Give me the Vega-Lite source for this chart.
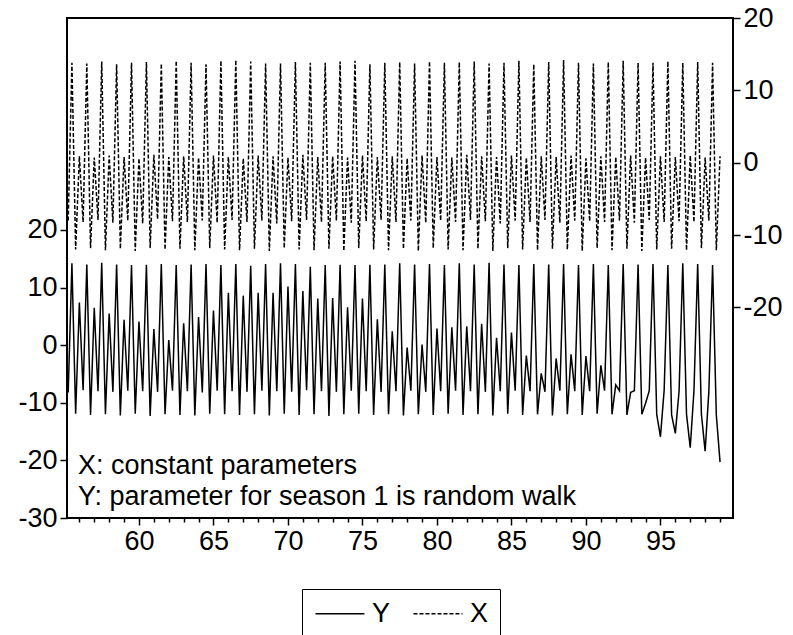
{
  "$schema": "https://vega.github.io/schema/vega-lite/v6.json",
  "autosize": {"type": "none"},
  "width": 666,
  "height": 500,
  "padding": {"left": 67, "top": 18, "right": 60, "bottom": 117},
  "background": "white",
  "config": {
    "view": {"stroke": "black", "strokeWidth": 2},
    "axis": {"domain": false, "grid": false, "tickColor": "black", "tickWidth": 1.5, "labelColor": "black", "labelFont": "Liberation Sans", "labelFontSize": 27, "title": null},
    "legend": {"orient": "none", "legendX": 235, "legendY": 571, "direction": "horizontal", "strokeColor": "black", "fillColor": "white", "padding": 11, "symbolType": "M-1.8,0H6.2", "symbolSize": 150, "symbolStrokeWidth": 1.5, "symbolStrokeColor": "black", "labelFontSize": 27, "labelFont": "Liberation Sans", "labelColor": "black", "labelOffset": 32, "columnPadding": 19, "title": null}
  },
  "data": {"values": [
    {"t":55.25,"Y":-8.2,"X":-8.0},{"t":55.5,"Y":14.2,"X":13.8},{"t":55.75,"Y":-11.9,"X":-12.0},
    {"t":56,"Y":7.4,"X":0.9},{"t":56.25,"Y":-7.8,"X":-8.2},{"t":56.5,"Y":14.0,"X":13.7},{"t":56.75,"Y":-12.1,"X":-11.8},
    {"t":57,"Y":6.5,"X":0.7},{"t":57.25,"Y":-8.0,"X":-7.9},{"t":57.5,"Y":14.3,"X":14.0},{"t":57.75,"Y":-12.0,"X":-12.1},
    {"t":58,"Y":5.5,"X":1.0},{"t":58.25,"Y":-8.1,"X":-8.3},{"t":58.5,"Y":14.0,"X":13.6},{"t":58.75,"Y":-12.2,"X":-11.9},
    {"t":59,"Y":4.4,"X":0.8},{"t":59.25,"Y":-7.9,"X":-8.0},{"t":59.5,"Y":13.9,"X":13.8},{"t":59.75,"Y":-11.9,"X":-12.2},
    {"t":60,"Y":4.1,"X":0.6},{"t":60.25,"Y":-8.0,"X":-8.4},{"t":60.5,"Y":13.95,"X":13.9},{"t":60.75,"Y":-12.3,"X":-11.8},
    {"t":61,"Y":2.8,"X":1.1},{"t":61.25,"Y":-8.1,"X":-7.8},{"t":61.5,"Y":14.1,"X":13.7},{"t":61.75,"Y":-12.0,"X":-12.0},
    {"t":62,"Y":0.9,"X":0.8},{"t":62.25,"Y":-7.9,"X":-8.1},{"t":62.5,"Y":13.9,"X":14.1},{"t":62.75,"Y":-12.1,"X":-11.9},
    {"t":63,"Y":3.8,"X":0.9},{"t":63.25,"Y":-8.0,"X":-8.2},{"t":63.5,"Y":14.0,"X":13.8},{"t":63.75,"Y":-12.2,"X":-12.1},
    {"t":64,"Y":4.9,"X":0.7},{"t":64.25,"Y":-8.2,"X":-8.0},{"t":64.5,"Y":14.1,"X":13.6},{"t":64.75,"Y":-11.9,"X":-11.8},
    {"t":65,"Y":6.0,"X":1.0},{"t":65.25,"Y":-7.9,"X":-8.3},{"t":65.5,"Y":13.9,"X":14.1},{"t":65.75,"Y":-12.0,"X":-12.0},
    {"t":66,"Y":9.1,"X":0.8},{"t":66.25,"Y":-8.0,"X":-7.9},{"t":66.5,"Y":14.1,"X":14.2},{"t":66.75,"Y":-12.1,"X":-12.1},
    {"t":67,"Y":8.6,"X":0.6},{"t":67.25,"Y":-8.1,"X":-8.2},{"t":67.5,"Y":13.8,"X":14.0},{"t":67.75,"Y":-12.0,"X":-11.9},
    {"t":68,"Y":9.1,"X":1.0},{"t":68.25,"Y":-7.9,"X":-8.0},{"t":68.5,"Y":14.1,"X":13.7},{"t":68.75,"Y":-12.2,"X":-12.2},
    {"t":69,"Y":9.1,"X":0.9},{"t":69.25,"Y":-8.0,"X":-8.4},{"t":69.5,"Y":14.2,"X":13.7},{"t":69.75,"Y":-11.9,"X":-11.8},
    {"t":70,"Y":10.2,"X":0.7},{"t":70.25,"Y":-8.1,"X":-8.1},{"t":70.5,"Y":14.1,"X":13.9},{"t":70.75,"Y":-12.1,"X":-12.0},
    {"t":71,"Y":9.4,"X":1.1},{"t":71.25,"Y":-7.8,"X":-7.9},{"t":71.5,"Y":13.6,"X":13.8},{"t":71.75,"Y":-12.0,"X":-12.1},
    {"t":72,"Y":8.1,"X":0.8},{"t":72.25,"Y":-8.0,"X":-8.2},{"t":72.5,"Y":13.9,"X":13.8},{"t":72.75,"Y":-12.3,"X":-11.9},
    {"t":73,"Y":8.2,"X":0.9},{"t":73.25,"Y":-8.1,"X":-8.0},{"t":73.5,"Y":13.95,"X":14.0},{"t":73.75,"Y":-12.0,"X":-12.2},
    {"t":74,"Y":6.6,"X":0.7},{"t":74.25,"Y":-7.9,"X":-8.3},{"t":74.5,"Y":13.9,"X":14.1},{"t":74.75,"Y":-11.9,"X":-11.8},
    {"t":75,"Y":8.1,"X":1.0},{"t":75.25,"Y":-8.0,"X":-8.1},{"t":75.5,"Y":13.95,"X":13.6},{"t":75.75,"Y":-12.1,"X":-12.0},
    {"t":76,"Y":4.5,"X":0.8},{"t":76.25,"Y":-8.1,"X":-7.9},{"t":76.5,"Y":14.0,"X":13.8},{"t":76.75,"Y":-12.0,"X":-12.1},
    {"t":77,"Y":2.4,"X":0.9},{"t":77.25,"Y":-8.0,"X":-8.2},{"t":77.5,"Y":14.2,"X":13.9},{"t":77.75,"Y":-12.2,"X":-11.9},
    {"t":78,"Y":-0.4,"X":0.6},{"t":78.25,"Y":-7.9,"X":-8.0},{"t":78.5,"Y":14.0,"X":13.7},{"t":78.75,"Y":-12.0,"X":-12.2},
    {"t":79,"Y":0.1,"X":1.0},{"t":79.25,"Y":-8.1,"X":-8.3},{"t":79.5,"Y":14.1,"X":14.0},{"t":79.75,"Y":-12.1,"X":-11.8},
    {"t":80,"Y":2.9,"X":0.8},{"t":80.25,"Y":-8.0,"X":-8.0},{"t":80.5,"Y":13.9,"X":13.8},{"t":80.75,"Y":-11.9,"X":-12.0},
    {"t":81,"Y":3.1,"X":0.7},{"t":81.25,"Y":-7.9,"X":-8.2},{"t":81.5,"Y":14.2,"X":13.9},{"t":81.75,"Y":-12.1,"X":-12.1},
    {"t":82,"Y":3.3,"X":1.1},{"t":82.25,"Y":-8.0,"X":-7.9},{"t":82.5,"Y":14.0,"X":14.0},{"t":82.75,"Y":-12.0,"X":-11.9},
    {"t":83,"Y":3.7,"X":0.9},{"t":83.25,"Y":-8.1,"X":-8.1},{"t":83.5,"Y":14.3,"X":13.7},{"t":83.75,"Y":-12.2,"X":-12.2},
    {"t":84,"Y":1.3,"X":0.8},{"t":84.25,"Y":-8.0,"X":-8.4},{"t":84.5,"Y":14.0,"X":13.8},{"t":84.75,"Y":-11.9,"X":-11.8},
    {"t":85,"Y":2.2,"X":1.0},{"t":85.25,"Y":-7.9,"X":-8.0},{"t":85.5,"Y":13.9,"X":14.1},{"t":85.75,"Y":-12.1,"X":-12.0},
    {"t":86,"Y":-1.8,"X":0.7},{"t":86.25,"Y":-8.0,"X":-8.2},{"t":86.5,"Y":14.1,"X":13.6},{"t":86.75,"Y":-12.0,"X":-12.1},
    {"t":87,"Y":-4.9,"X":0.9},{"t":87.25,"Y":-8.1,"X":-7.9},{"t":87.5,"Y":14.0,"X":13.9},{"t":87.75,"Y":-12.2,"X":-11.9},
    {"t":88,"Y":-2.3,"X":0.8},{"t":88.25,"Y":-7.9,"X":-8.3},{"t":88.5,"Y":14.1,"X":14.2},{"t":88.75,"Y":-12.0,"X":-12.0},
    {"t":89,"Y":-1.6,"X":1.0},{"t":89.25,"Y":-8.0,"X":-8.0},{"t":89.5,"Y":13.9,"X":13.8},{"t":89.75,"Y":-12.1,"X":-12.2},
    {"t":90,"Y":-1.9,"X":0.6},{"t":90.25,"Y":-8.0,"X":-8.1},{"t":90.5,"Y":14.1,"X":13.7},{"t":90.75,"Y":-11.9,"X":-11.8},
    {"t":91,"Y":-3.5,"X":0.9},{"t":91.25,"Y":-7.9,"X":-8.2},{"t":91.5,"Y":13.9,"X":13.9},{"t":91.75,"Y":-12.0,"X":-12.1},
    {"t":92,"Y":-6.9,"X":0.8},{"t":92.25,"Y":-7.9,"X":-8.0},{"t":92.5,"Y":14.1,"X":14.1},{"t":92.75,"Y":-12.1,"X":-11.9},
    {"t":93,"Y":-8.2,"X":1.0},{"t":93.25,"Y":-7.9,"X":-8.3},{"t":93.5,"Y":14.0,"X":13.8},{"t":93.75,"Y":-12.0,"X":-12.2},
    {"t":94,"Y":-10.1,"X":0.7},{"t":94.25,"Y":-7.9,"X":-7.9},{"t":94.5,"Y":14.1,"X":13.8},{"t":94.75,"Y":-12.0,"X":-12.0},
    {"t":95,"Y":-15.9,"X":0.9},{"t":95.25,"Y":-7.8,"X":-8.2},{"t":95.5,"Y":13.9,"X":14.0},{"t":95.75,"Y":-12.1,"X":-11.9},
    {"t":96,"Y":-15.3,"X":0.8},{"t":96.25,"Y":-8.0,"X":-8.1},{"t":96.5,"Y":14.2,"X":13.8},{"t":96.75,"Y":-12.0,"X":-12.1},
    {"t":97,"Y":-17.8,"X":1.0},{"t":97.25,"Y":-7.9,"X":-8.2},{"t":97.5,"Y":14.1,"X":13.9},{"t":97.75,"Y":-12.0,"X":-11.8},
    {"t":98,"Y":-18.4,"X":0.7},{"t":98.25,"Y":-8.0,"X":-8.0},{"t":98.5,"Y":13.9,"X":13.8},{"t":98.75,"Y":-12.1,"X":-12.1},
    {"t":99,"Y":-20.3,"X":0.9}
  ]},
  "encoding": {
    "x": {"field": "t", "type": "quantitative",
      "scale": {"domain": [55.17, 99.87], "nice": false, "zero": false},
      "axis": {"values": [56,57,58,59,60,61,62,63,64,65,66,67,68,69,70,71,72,73,74,75,76,77,78,79,80,81,82,83,84,85,86,87,88,89,90,91,92,93,94,95,96,97,98,99],
        "labelExpr": "datum.value % 5 === 0 ? '' + datum.value : ''",
        "tickSize": {"condition": {"test": "datum.value % 5 === 0", "value": 7}, "value": 4},
        "labelPadding": 3, "labelFlush": false, "labelOverlap": false}}
  },
  "layer": [
    {
      "layer": [
        {
          "mark": {"type": "line", "strokeWidth": 1.5, "color": "black", "clip": true},
          "encoding": {
            "y": {"field": "Y", "type": "quantitative",
              "scale": {"domain": [-30, 56.8], "nice": false, "zero": false},
              "axis": {"orient": "left", "values": [-30,-20,-10,0,10,20], "tickSize": 7, "labelPadding": 3, "labelExpr": "'' + datum.value"}},
            "strokeDash": {"datum": "Y", "type": "nominal",
              "scale": {"domain": ["Y", "X"], "range": [[1, 0], [4, 2]]}}
          }
        },
        {
          "data": {"values": [
            {"t": 55.9, "Y": -21.0, "label": "X: constant parameters"},
            {"t": 55.9, "Y": -26.4, "label": "Y: parameter for season 1 is random walk"}
          ]},
          "mark": {"type": "text", "align": "left", "baseline": "middle", "font": "Liberation Sans", "fontSize": 27, "color": "black"},
          "encoding": {
            "y": {"field": "Y", "type": "quantitative"},
            "text": {"field": "label"}
          }
        }
      ]
    },
    {
      "mark": {"type": "line", "strokeWidth": 1.5, "color": "black", "clip": true},
      "encoding": {
        "y": {"field": "X", "type": "quantitative",
          "scale": {"domain": [-49.1, 20], "nice": false, "zero": false},
          "axis": {"orient": "right", "values": [-20,-10,0,10,20], "tickSize": 7, "labelPadding": 3, "labelExpr": "'' + datum.value"}},
        "strokeDash": {"datum": "X", "type": "nominal"}
      }
    }
  ],
  "resolve": {"scale": {"y": "independent"}}
}
